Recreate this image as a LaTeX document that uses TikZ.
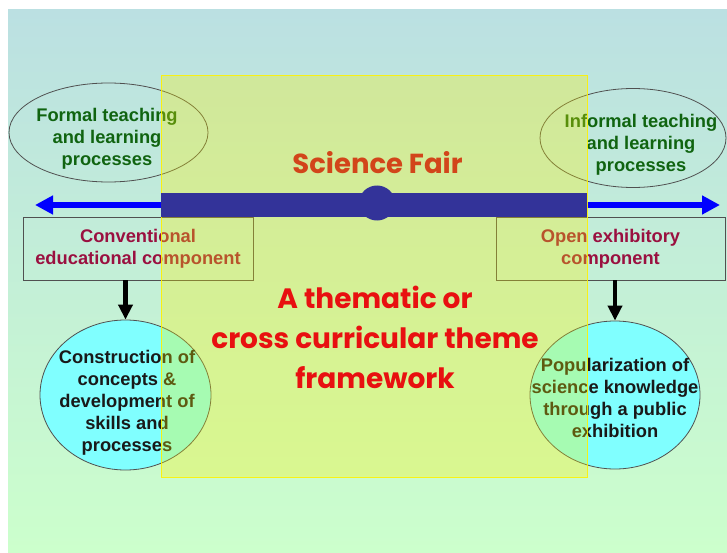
\documentclass[tikz,border=0pt]{standalone}
\usepackage{fontspec}
\setmainfont{Liberation Sans}
\newfontfamily\comicfont{Poppins}
\usetikzlibrary{arrows.meta,shapes.geometric}
\definecolor{bgtop}{HTML}{BBE0E2}
\definecolor{bgbot}{HTML}{CCFFCC}
\definecolor{greentxt}{HTML}{106410}
\definecolor{winetxt}{HTML}{9A1040}
\definecolor{barblue}{HTML}{333399}
\definecolor{sfair}{HTML}{D2451A}
\definecolor{cyanfill}{HTML}{80FFFF}
\definecolor{redtxt}{HTML}{E81010}
\definecolor{outline}{HTML}{505050}
\begin{document}
\begin{tikzpicture}[x=1pt,y=-1pt,
  arialtxt/.style={font=\fontsize{18.3}{22}\selectfont\bfseries, align=center, inner sep=0},
  greenlabel/.style={arialtxt, text=greentxt},
  topell/.style={ellipse, draw=outline, line width=0.8pt, inner sep=0},
  compbox/.style={rectangle, draw=outline, line width=0.8pt, minimum width=230, minimum height=63, inner sep=0,
    arialtxt, text=winetxt},
  botell/.style={ellipse, draw=outline, line width=0.8pt, fill=cyanfill, inner sep=0},
  blacklabel/.style={arialtxt, text=black!90},
  bluearrow/.style={draw=blue, line width=6pt, {Triangle[length=18pt,width=18pt]}-{Triangle[length=18pt,width=18pt]}},
  downarrow/.style={draw=black, line width=4.5pt, -{Triangle[length=15pt,width=14pt]}},
  comictxt/.style={font=\comicfont\bfseries\fontsize{28}{40}\selectfont, align=center, inner sep=0}
]
% canvas
\useasboundingbox (0,0) rectangle (727,553);
\fill[white] (0,0) rectangle (727,553);
\shade[top color=bgtop, bottom color=bgbot] (8,10) rectangle (727,553);

% top ellipses
\node[topell, minimum width=199, minimum height=99] (formal) at (108.5,132.5) {};
\node[greenlabel] (formaltxt) at (107,139) {Formal teaching\\and learning\\processes};
\node[topell, minimum width=186, minimum height=99] (informal) at (633,138) {};
\node[greenlabel] (informaltxt) at (641,145) {Informal teaching\\and learning\\processes};

% boxes
\node[compbox] (conv) at (138,248.5) {Conventional\\educational component};
\node[compbox, minimum width=229] (open) at (610.5,248.5) {Open exhibitory\\component};

% bottom ellipses
\node[botell, minimum width=171, minimum height=150] (cons) at (125.5,395) {};
\node[blacklabel] (constxt) at (127,403) {Construction of\\concepts \&\\development of\\skills and\\processes};
\node[botell, minimum width=170, minimum height=148] (pop) at (615,395) {};
\node[blacklabel] (poptxt) at (615,397.5) {Popularization of\\science knowledge\\through a public\\exhibition};

% down arrows
\draw[downarrow] (conv.south -| cons.north) -- (cons.north);
\draw[downarrow] (open.south -| pop.north) -- (pop.north);

% blue double arrow
\coordinate (bl) at (35,205);
\coordinate (br) at (720,205);
\draw[bluearrow] (bl) -- (br);

% translucent yellow frame
\node[rectangle, fill=yellow, fill opacity=0.3, draw=yellow, draw opacity=0.9, line width=1pt,
  minimum width=426, minimum height=401, inner sep=0] (frame) at (374,276.5) {};

% dark bar with hub
\node[rectangle, fill=barblue, minimum width=426, minimum height=24, inner sep=0] (bar) at (374,205) {};
\node[ellipse, fill=barblue, minimum width=36, minimum height=35, inner sep=0] (hub) at (377,203) {};

% titles
\node[comictxt, text=sfair, font=\comicfont\bfseries\fontsize{27.5}{40}\selectfont] (sf) at (377.5,163) {Science Fair};
\node[comictxt, text=redtxt] (theme) at (375,337.5) {A thematic or\\cross curricular theme\\framework};
\end{tikzpicture}
\end{document}
